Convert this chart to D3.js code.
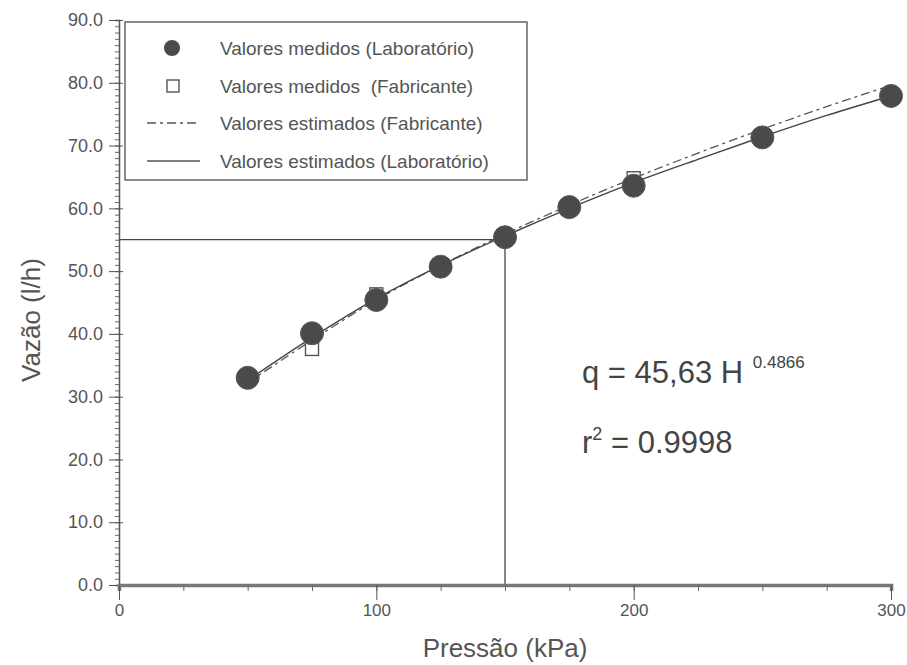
<!DOCTYPE html>
<html><head><meta charset="utf-8">
<script src="https://cdn.jsdelivr.net/npm/d3@7"></script>
<style>body{margin:0;background:#fff}svg{display:block}</style>
</head><body>
<svg id="c" width="907" height="665"></svg>
<script>
// Data
const pressaoLab = [50, 75, 100, 125, 150, 175, 200, 250, 300];
const vazaoLab = [33.0, 40.1, 45.4, 50.7, 55.4, 60.2, 63.6, 71.3, 77.9];
const pressaoFab = [75, 100, 150, 200];
const vazaoFab = [37.6, 46.3, 55.6, 64.8];
const pressaoEst = [50, 75, 100, 125, 150, 175, 200, 225, 250, 275, 300];
const estLab = [32.6, 39.4, 45.6, 50.9, 55.6, 60.0, 64.1, 67.8, 71.4, 74.8, 77.9];
const estFab = [32.2, 39.0, 45.4, 50.9, 55.9, 60.5, 64.8, 68.8, 72.6, 76.2, 79.6];
const refPoint = [150, 55];
const xTicks = [0, 100, 200, 300];
const yTicks = [0, 10, 20, 30, 40, 50, 60, 70, 80, 90];
const legendLabels = ["Valores medidos (Laboratório)", "Valores medidos  (Fabricante)", "Valores estimados (Fabricante)", "Valores estimados (Laboratório)"];

const svg = d3.select("#c");
const font = "Liberation Sans, Arial, sans-serif";
const grey = "#555";
const x = d3.scaleLinear().domain([0, 300]).range([119, 891]);
const y = d3.scaleLinear().domain([0, 90]).range([585, 20]);

// reference lines
svg.append("line").attr("x1", x(0)).attr("x2", x(refPoint[0])).attr("y1", y(refPoint[1])).attr("y2", y(refPoint[1]))
  .attr("stroke", "#444").attr("stroke-width", 1.3);
svg.append("line").attr("x1", x(refPoint[0])).attr("x2", x(refPoint[0])).attr("y1", y(refPoint[1])).attr("y2", y(0))
  .attr("stroke", "#444").attr("stroke-width", 1.3);

// y axis
const yAxisMinor = d3.axisLeft(y).tickValues(d3.range(0, 91, 1)).tickSize(4).tickFormat("");
const gyMinor = svg.append("g").attr("transform", `translate(${x(0)},0)`).call(yAxisMinor);
gyMinor.selectAll("line").attr("stroke", "#666");
gyMinor.select(".domain").attr("stroke", "#555").attr("stroke-width", 1.5);
const yAxis = d3.axisLeft(y).tickValues(yTicks).tickSize(10).tickPadding(6).tickFormat(d3.format(".1f"));
const gy = svg.append("g").attr("transform", `translate(${x(0)},0)`).call(yAxis);
gy.select(".domain").remove();
gy.selectAll("line").attr("stroke", "#555").attr("x2", -10).attr("x1", 4);
gy.selectAll("text").attr("font-family", font).attr("font-size", 18).attr("fill", grey);

// x axis
const xAxisMinor = d3.axisBottom(x).tickValues(d3.range(0, 301, 25)).tickSize(6).tickFormat("");
const gxMinor = svg.append("g").attr("transform", `translate(0,${y(0)})`).call(xAxisMinor);
gxMinor.selectAll("line").attr("stroke", "#666");
gxMinor.select(".domain").attr("stroke", "#777").attr("stroke-width", 3.5);
const xAxis = d3.axisBottom(x).tickValues(xTicks).tickSize(15).tickPadding(4).tickFormat(d3.format("d"));
const gx = svg.append("g").attr("transform", `translate(0,${y(0)})`).call(xAxis);
gx.select(".domain").remove();
gx.selectAll("line").attr("stroke", "#555");
gx.selectAll("text").attr("font-family", font).attr("font-size", 17).attr("fill", grey);

// lines
const line = d3.line().x(d => x(d[0])).y(d => y(d[1])).curve(d3.curveMonotoneX);
svg.append("path").datum(pressaoEst.map((p, i) => [p, estFab[i]])).attr("d", line)
  .attr("fill", "none").attr("stroke", "#555").attr("stroke-width", 1.3).attr("stroke-dasharray", "9,4,3,4");
svg.append("path").datum(pressaoEst.map((p, i) => [p, estLab[i]])).attr("d", line)
  .attr("fill", "none").attr("stroke", "#444").attr("stroke-width", 1.4);

// fabricante squares
svg.selectAll(".sq").data(pressaoFab.map((p, i) => [p, vazaoFab[i]])).enter().append("rect")
  .attr("x", d => x(d[0]) - 6.5).attr("y", d => y(d[1]) - 6.5).attr("width", 13).attr("height", 13)
  .attr("fill", "#fff").attr("stroke", "#555").attr("stroke-width", 1.4);

// lab circles
svg.selectAll(".ci").data(pressaoLab.map((p, i) => [p, vazaoLab[i]])).enter().append("circle")
  .attr("cx", d => x(d[0])).attr("cy", d => y(d[1])).attr("r", 11.5)
  .attr("fill", "#4a4a4a").attr("stroke", "#5a5a5a").attr("stroke-width", 1);

// legend
svg.append("rect").attr("x", 125).attr("y", 22).attr("width", 402).attr("height", 158)
  .attr("fill", "#fff").attr("stroke", "#666").attr("stroke-width", 1.5);
const rows = [48, 86, 123, 161];
svg.append("circle").attr("cx", 172).attr("cy", rows[0]).attr("r", 8).attr("fill", "#4a4a4a");
svg.append("rect").attr("x", 167).attr("y", rows[1] - 6).attr("width", 12).attr("height", 12)
  .attr("fill", "#fff").attr("stroke", "#555").attr("stroke-width", 1.4);
svg.append("line").attr("x1", 147).attr("x2", 200).attr("y1", rows[2]).attr("y2", rows[2])
  .attr("stroke", "#555").attr("stroke-width", 1.3).attr("stroke-dasharray", "9,4,3,4");
svg.append("line").attr("x1", 147).attr("x2", 200).attr("y1", rows[3]).attr("y2", rows[3])
  .attr("stroke", "#555").attr("stroke-width", 1.3);
legendLabels.forEach((t, i) => {
  svg.append("text").attr("x", 220).attr("y", rows[i]).attr("dy", "0.35em")
    .attr("font-family", font).attr("font-size", 19).attr("fill", grey).attr("xml:space", "preserve").text(t);
});

// equation
const eq = svg.append("text").attr("x", 582).attr("y", 383).attr("font-family", font).attr("font-size", 31).attr("fill", "#444");
eq.append("tspan").text("q = 45,63 H ");
eq.append("tspan").attr("font-size", 17).attr("dy", -15).attr("dx", 1).text("0.4866");
const r2 = svg.append("text").attr("x", 582).attr("y", 453).attr("font-family", font).attr("font-size", 31).attr("fill", "#444");
r2.append("tspan").text("r");
r2.append("tspan").attr("font-size", 18).attr("dy", -13).text("2");
r2.append("tspan").attr("dy", 13).text(" = 0.9998");

// axis titles
svg.append("text").attr("x", x(150)).attr("y", 657).attr("text-anchor", "middle")
  .attr("font-family", font).attr("font-size", 26).attr("fill", grey).text("Pressão (kPa)");
svg.append("text").attr("transform", "translate(40,320) rotate(-90)").attr("text-anchor", "middle")
  .attr("font-family", font).attr("font-size", 26).attr("fill", grey).text("Vazão (l/h)");
</script>
</body></html>
